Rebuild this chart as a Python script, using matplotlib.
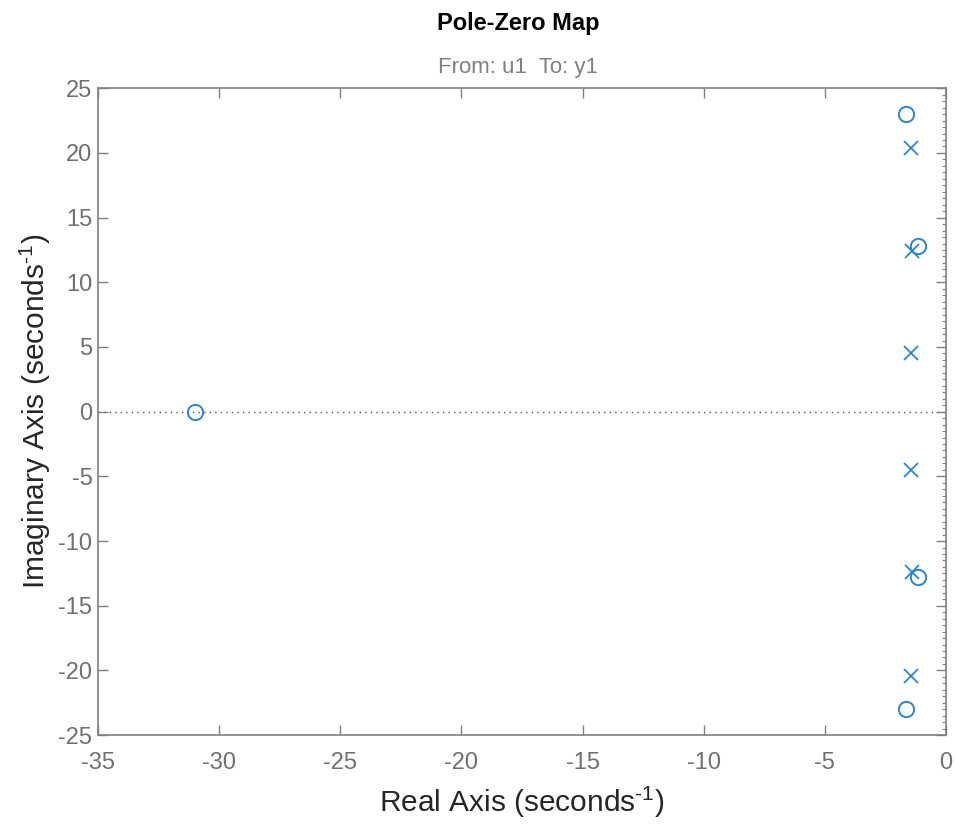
import matplotlib
matplotlib.use("Agg")
import matplotlib.pyplot as plt
from matplotlib.ticker import MultipleLocator

plt.rcParams["font.family"] = ["Liberation Sans", "DejaVu Sans"]
plt.rcParams["axes.unicode_minus"] = False
plt.rcParams["mathtext.fontset"] = "custom"
plt.rcParams["mathtext.rm"] = "Liberation Sans"
plt.rcParams["mathtext.it"] = "Liberation Sans"

# poles (x) and zeros (o)
pole_re = [-1.45, -1.45, -1.40, -1.40, -1.45, -1.45]
pole_im = [20.4, -20.4, 12.4, -12.4, 4.5, -4.5]
zero_re = [-31.0, -1.65, -1.65, -1.15, -1.15]
zero_im = [0.0, 23.0, -23.0, 12.8, -12.8]

x_ticks = [-35, -30, -25, -20, -15, -10, -5, 0]
y_ticks = [-25, -20, -15, -10, -5, 0, 5, 10, 15, 20, 25]

blue = "#2a86d0"
grey = "#808080"

fig = plt.figure(figsize=(9.56, 8.25), dpi=100)
ax = fig.add_axes([0.1025, 0.109, 0.887, 0.784])

ax.plot([-35, 0], [0, 0], linestyle=(0, (1, 3)), color="#555555", linewidth=1.0, zorder=1)
ax.plot(pole_re, pole_im, linestyle="none", marker="x", markersize=10,
        markeredgewidth=1.3, color=blue, zorder=3)
ax.plot(zero_re, zero_im, linestyle="none", marker="o", markersize=11,
        markerfacecolor="none", markeredgewidth=1.4, color=blue, zorder=3)

ax.set_xlim(-35, 0)
ax.set_ylim(-25, 25)
ax.set_xticks(x_ticks)
ax.set_yticks(y_ticks)
ax.tick_params(direction="in", length=7, width=1, colors=grey, labelsize=17,
               top=True, right=True, labelcolor="#707070")
ax.tick_params(axis="x", pad=12)
ax.tick_params(axis="y", pad=4)
ax.yaxis.set_minor_locator(MultipleLocator(0.5))
ax.tick_params(axis="y", which="minor", direction="in", length=3, width=0.8,
               color=grey, left=False, right=True)
for s in ax.spines.values():
    s.set_color(grey)
    s.set_linewidth(1.2)

ax.set_xlabel(r"Real Axis (seconds$^{\text{-1}}$)", fontsize=21.5, color="#262626", labelpad=8)
ax.set_ylabel(r"Imaginary Axis (seconds$^{\text{-1}}$)", fontsize=21.5, color="#262626", labelpad=4)

fig.text(0.542, 0.971, "Pole-Zero Map", ha="center", va="center",
         fontsize=17, fontweight="bold", color="#000000")
fig.text(0.542, 0.918, "From: u1  To: y1", ha="center", va="center",
         fontsize=16, color="#808080")

fig.savefig("out.png", dpi=100)
